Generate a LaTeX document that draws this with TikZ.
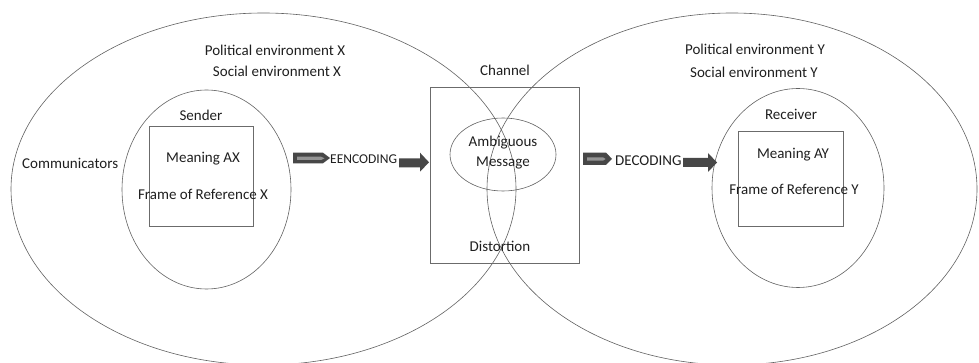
\documentclass[tikz,border=0pt]{standalone}
\usepackage{fontspec}
\setmainfont{Carlito}
\usetikzlibrary{shapes.geometric}
\begin{document}
\begin{tikzpicture}[x=1pt,y=-1pt,
  ln/.style={draw=black!62, line width=0.6pt},
  bx/.style={draw=black!58, line width=1pt, inner sep=0pt},
  ell/.style={ellipse, ln, inner sep=0pt},
  lbl/.style={font=\fontsize{15}{18}\selectfont, text=black!88, inner sep=0pt},
  sml/.style={font=\fontsize{13.5}{16}\selectfont, text=black!88, inner sep=0pt},
  darkfill/.style={fill=black!72},
  lightfill/.style={fill=black!42}]
\useasboundingbox (0,0) rectangle (979,363);
% environments
\node[ell, minimum width=505pt, minimum height=352pt] (envX) at (263.5,189) {};
\node[ell, minimum width=490pt, minimum height=352pt] (envY) at (732,189) {};
% sender / receiver
\node[ell, minimum width=169pt, minimum height=199pt] (sender) at (206.5,189.5) {};
\node[ell, minimum width=172pt, minimum height=199pt] (receiver) at (798,188) {};
\node[bx, minimum width=104pt, minimum height=100pt] (boxX) at (201,177) {};
\node[bx, minimum width=105pt, minimum height=95pt] (boxY) at (790.5,179.5) {};
% channel
\node[bx, minimum width=149pt, minimum height=175pt] (channel) at (504.5,175.5) {};
\node[ell, minimum width=106pt, minimum height=73pt] (msg) at (503,154.5) {};
% labels
\node[lbl] (polX) at (275,50) {Political environment X};
\node[lbl] (socX) at (277,71) {Social environment X};
\node[lbl] (polY) at (755,49) {Political environment Y};
\node[lbl] (socY) at (754,72) {Social environment Y};
\node[lbl] (chan) at (505,70) {Channel};
\node[lbl, anchor=west] (comm) at (22,163) {Communicators};
\node[lbl] (sendL) at (201,115) {Sender};
\node[lbl] (meanX) at (203,159) {Meaning AX};
\node[lbl] (frX) at (203,194) {Frame of Reference X};
\node[lbl] (recvL) at (791,114) {Receiver};
\node[lbl] (meanY) at (793,155) {Meaning AY};
\node[lbl] (frY) at (794,189) {Frame of Reference Y};
\node[lbl] (amb) at (503,143) {Ambiguous};
\node[lbl] (mess) at (503,163) {Message};
\node[lbl] (dist) at (500,246) {Distortion};
\node[sml, anchor=west] (enc) at (330,159) {EENCODING};
\node[lbl, anchor=west] (dec) at (615,161) {DECODING};
% block arrows
\path[darkfill] (293,152.7) -- (323,152.7) -- (330,158) -- (323,163.3) -- (293,163.3) -- cycle;
\path[lightfill] (297,156.7) -- (321,156.7) -- (324.5,158.3) -- (321,160) -- (297,160) -- cycle;
\path[darkfill] (399,158.3) -- (420,158.3) -- (420,152.7) -- (429,162.3) -- (420,171.7) -- (420,167.3) -- (399,167.3) -- cycle;
\path[darkfill] (583,152.7) -- (606,152.7) -- (612,158.8) -- (606,165) -- (583,165) -- cycle;
\path[lightfill] (587,157.3) -- (603,157.3) -- (605.5,159) -- (603,160.7) -- (587,160.7) -- cycle;
\path[darkfill] (683,158) -- (708,158) -- (708,153) -- (717,162.5) -- (708,172) -- (708,167) -- (683,167) -- cycle;
\end{tikzpicture}
\end{document}
